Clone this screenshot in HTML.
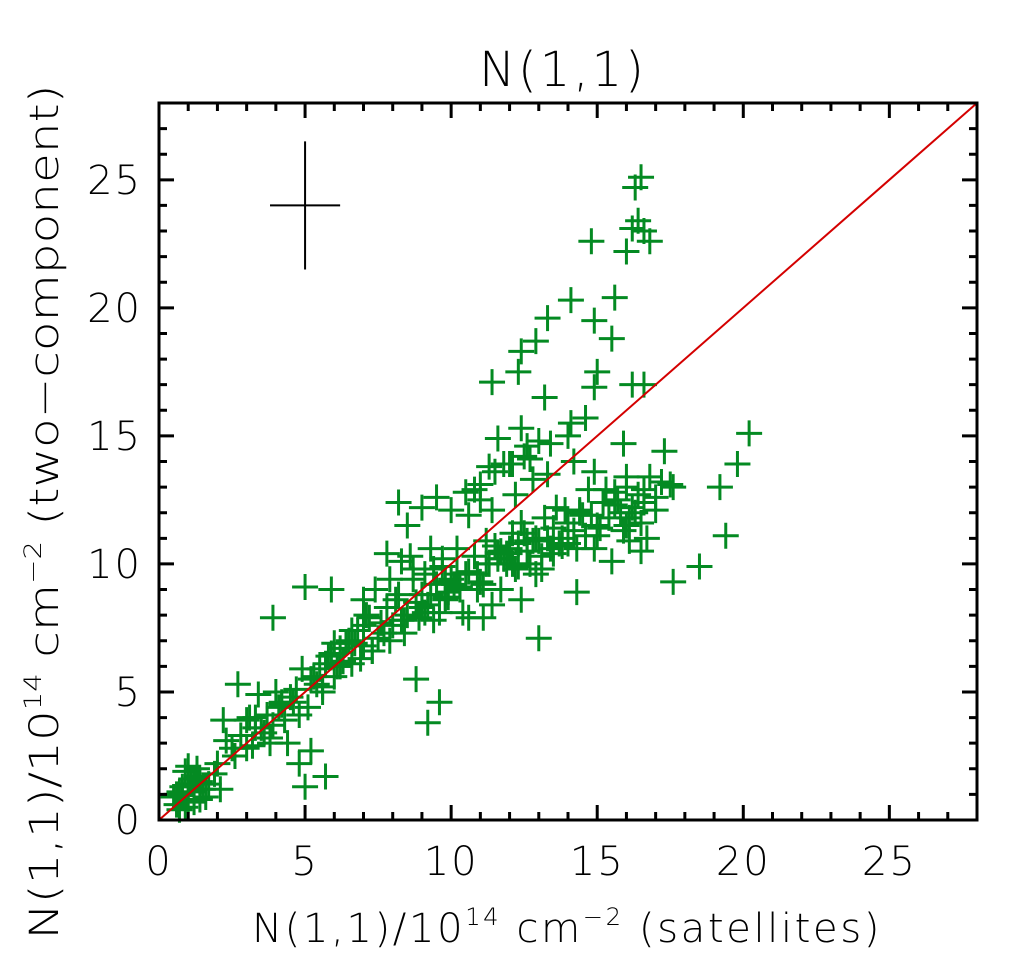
<!DOCTYPE html>
<html><head><meta charset="utf-8">
<style>
body{margin:0;background:#fff;}
svg{display:block;font-family:"DejaVu Sans","Liberation Sans",sans-serif;}
</style></head>
<body>
<svg id="chart" width="1026" height="972" viewBox="0 0 1026 972" xmlns="http://www.w3.org/2000/svg">
<rect width="1026" height="972" fill="#fff"/>
<text x="563" y="86" font-size="48" font-weight="300" letter-spacing="3" text-anchor="middle">N(1,1)</text>
<g id="points"></g>
<g id="axes"></g>
<text x="567" y="942" font-size="40" font-weight="300" letter-spacing="2.5" text-anchor="middle" textLength="630" lengthAdjust="spacingAndGlyphs">N(1,1)/10<tspan font-size="24" dy="-17">14</tspan><tspan dy="17"> cm</tspan><tspan font-size="24" dy="-17">−2</tspan><tspan dy="17"> (satellites)</tspan></text>
<text transform="translate(58,512) rotate(-90)" font-size="40" font-weight="300" text-anchor="middle" textLength="855" lengthAdjust="spacingAndGlyphs">N(1,1)/10<tspan font-size="24" dy="-17">14</tspan><tspan dy="17"> cm</tspan><tspan font-size="24" dy="-17">−2</tspan><tspan dy="17"> (two−component)</tspan></text>
</svg>
<script>
const xTicks=[0,5,10,15,20,25];
const yTicks=[0,5,10,15,20,25];
const xs=[16.5,16.3,16.4,16.2,16.6,16.8,16.0,14.8,15.6,14.9,15.5,14.1,13.3,12.9,12.4,11.4,12.3,15.0,14.9,16.2,16.6,13.2,14.1,14.6,14.0,15.9,17.3,20.2,19.8,19.2,19.4,18.5,17.6,13.0,9.2,9.6,8.8,5.0,3.9,5.9,5.0,5.7,5.2,4.8,
0.6,0.8,1.0,1.1,1.2,1.3,0.9,1.5,0.7,1.0,1.4,1.6,0.5,1.2,0.8,1.1,1.9,2.1,
2.5,2.8,3.0,3.2,3.5,3.7,3.9,4.1,4.3,4.5,2.7,3.4,3.8,4.0,4.6,4.9,3.1,3.6,4.2,
5.2,5.5,5.8,6.0,6.3,6.5,6.8,7.0,7.2,7.5,7.8,8.0,5.6,6.1,6.6,7.1,7.6,6.9,7.4,8.2,5.9,6.4,
8.5,8.8,9.0,9.3,9.5,9.8,10.0,10.3,10.6,11.0,11.3,11.6,12.0,12.3,12.6,13.0,13.4,13.8,14.2,14.6,15.0,15.4,15.8,16.2,16.6,17.0,17.5,
8.3,9.0,9.7,10.2,10.8,11.2,11.5,11.8,12.1,12.4,12.7,12.0,11.9,12.5,12.2,11.7,
10.0,10.5,11.0,11.5,12.0,12.5,13.0,9.5,9.0,8.5,8.2,7.8,10.8,11.3,12.8,
13.2,13.6,14.0,14.4,14.8,15.2,15.6,16.0,16.4,16.8,15.9,16.3,16.1,16.5,15.7,16.7,17.2,17.6,14.3,13.5,
9.8,10.4,11.1,11.7,12.4,13.1,13.7,14.3,15.0,15.5,16.0,14.7,13.9,12.9,9.4,10.9,
6.2,6.7,7.3,7.9,8.4,8.9,9.1,9.6,10.1,7.0,8.6,9.9,11.4,10.6,
2.0,2.3,2.6,3.3,4.4,4.7,5.1,5.4,5.7,6.0,3.0,2.2,
0.7,0.9,1.2,1.4,1.0,1.3,0.6,1.7,
3.3,3.8,4.2,4.8,5.3,5.6,6.2,6.6,7.0,7.3,7.7,8.1,8.4,8.7,9.1,9.4,9.8,10.2,
9.2,9.9,10.5,11.1,11.6,12.1,12.6,13.1,13.5,14.0,14.5,15.1,15.6,16.1,16.6,
10.6,11.0,11.4,11.8,12.2,12.6,12.9,13.3,13.8,14.4,14.9,15.3,
7.9,8.3,8.7,9.3,9.7,10.3,10.9,11.2,11.9,12.3,12.8,13.3,
11.6,12.1,12.4,12.7,13.4,14.2,14.9,16.0,16.5,17.0];
const ys=[25.1,24.7,23.4,23.1,23.0,22.6,22.2,22.6,20.4,19.5,18.8,20.3,19.6,18.7,18.3,17.1,17.5,17.5,16.9,17.0,17.0,16.5,15.5,15.7,15.0,14.7,14.4,15.1,13.9,13.0,11.1,9.9,9.3,7.1,3.8,4.6,5.5,9.1,7.9,9.0,1.3,1.7,2.7,2.2,
0.6,1.0,0.8,1.4,1.1,1.7,1.9,1.2,0.4,2.1,1.5,0.9,0.9,0.7,1.3,1.6,1.8,1.2,
2.8,3.3,3.9,2.9,3.6,4.1,3.7,4.4,3.9,4.8,5.3,4.9,3.2,5.0,4.6,5.9,4.0,3.4,4.5,
5.5,5.9,6.4,6.9,6.2,7.0,7.4,6.8,7.9,7.1,8.3,7.6,5.0,6.0,7.4,8.0,7.7,6.3,9.0,8.8,6.5,6.9,
8.0,8.5,8.3,8.8,9.2,8.6,9.4,9.0,9.7,9.3,10.0,10.2,10.4,10.8,10.5,10.9,10.6,11.0,11.3,11.1,11.5,11.8,12.0,12.2,12.4,12.6,13.1,
7.8,8.8,9.9,9.6,10.3,10.9,10.7,10.2,11.2,11.6,10.0,10.6,10.0,11.2,9.8,10.5,
12.1,12.8,13.1,13.6,13.9,14.2,14.8,12.6,12.2,11.5,12.4,10.4,12.9,13.8,13.3,
11.8,12.2,11.6,12.1,11.9,12.4,12.8,13.0,12.7,13.4,11.3,12.0,10.9,11.6,12.5,11.0,13.2,13.0,8.9,10.4,
9.3,8.1,7.9,9.0,8.6,9.8,10.8,10.6,11.1,10.1,13.4,12.9,12.1,9.6,7.8,9.0,
6.0,6.9,6.6,7.0,7.3,7.9,9.6,8.1,9.2,8.6,10.3,8.7,8.4,7.9,
2.2,3.1,2.5,4.0,3.0,5.1,4.4,5.3,6.1,5.6,2.8,3.9,
1.1,0.5,1.6,0.8,1.3,2.0,1.0,1.4,
3.6,3.0,4.6,4.1,5.6,5.2,6.7,6.1,7.6,6.6,7.3,8.6,7.8,9.4,8.1,9.8,8.7,10.6,
8.4,8.9,9.6,9.2,10.4,10.0,10.9,10.3,11.4,10.8,11.9,11.4,12.3,11.8,12.9,
11.9,12.5,12.1,13.9,12.7,14.6,11.0,13.5,10.7,12.0,10.6,12.9,
9.4,10.1,9.8,10.6,10.2,9.1,9.6,10.0,10.4,9.9,10.9,11.0,
14.9,13.9,15.3,14.1,14.7,14.0,13.6,11.5,10.5,12.1];
const L=159,R=977,T=103,B=820,XMAX=28,YMAX=28;
const sx=v=>L+v*(R-L)/XMAX, sy=v=>B-v*(B-T)/YMAX;
const NS="http://www.w3.org/2000/svg";
function mk(tag,attrs,parent){const e=document.createElementNS(NS,tag);for(const k in attrs)e.setAttribute(k,attrs[k]);parent.appendChild(e);return e;}
const pts=document.getElementById('points');
for(let i=0;i<xs.length;i++){
  const x=sx(xs[i]),y=sy(ys[i]);
  const p=mk('path',{d:`M${x-13},${y}H${x+13}M${x},${y-13}V${y+13}`,stroke:'#048a22','stroke-width':3,fill:'none'},pts);
  
  
}
const ax=document.getElementById('axes');
const one=mk('line',{x1:sx(0),y1:sy(0),x2:sx(28),y2:sy(28),stroke:'#d40000','stroke-width':2},ax);


const eb=mk('path',{d:`M${sx(3.8)},${sy(24)}H${sx(6.2)}M${sx(5)},${sy(26.5)}V${sy(21.5)}`,stroke:'#000','stroke-width':2,fill:'none'},ax);


const fr=mk('rect',{x:L,y:T,width:R-L,height:B-T,fill:'none',stroke:'#000','stroke-width':3},ax);


let d='';
for(let v=1;v<28;v++){
  const len=(v%5===0)?15:8;
  const x=sx(v),y=sy(v);
  d+=`M${x},${B}v${-len}M${x},${T}v${len}M${L},${y}h${len}M${R},${y}h${-len}`;
}
const tk=mk('path',{d:d,stroke:'#000','stroke-width':3,fill:'none'},ax);


for(const v of xTicks){
  const t=mk('text',{x:sx(v),y:875,'font-size':40,'font-weight':300,'letter-spacing':2,'text-anchor':'middle'},ax);t.textContent=v;
  
  
}
for(const v of yTicks){
  const t=mk('text',{x:142,y:sy(v)+14,'font-size':40,'font-weight':300,'letter-spacing':2,'text-anchor':'end'},ax);t.textContent=v;
  
  
}
</script>
</body></html>
